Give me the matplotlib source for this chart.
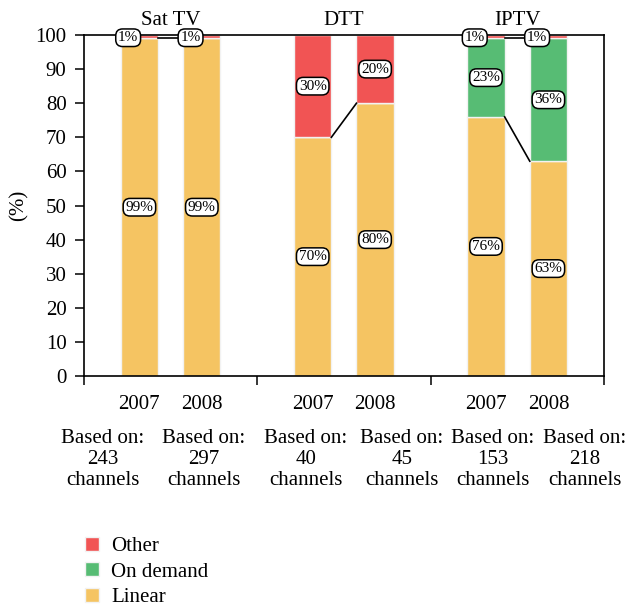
import matplotlib
matplotlib.use("Agg")
import matplotlib.pyplot as plt
import numpy as np
from matplotlib.patches import Patch

plt.rcParams['font.family'] = ['Liberation Serif', 'DejaVu Serif']

groups = ['Sat TV', 'DTT', 'IPTV']
years = ['2007', '2008', '2007', '2008', '2007', '2008']
channels = [243, 297, 40, 45, 153, 218]
linear = [99, 99, 70, 80, 76, 63]
on_demand = [0, 0, 0, 0, 23, 36]
other = [1, 1, 30, 20, 1, 1]

c_linear = '#F5C462'
c_demand = '#57BC74'
c_other = '#F15454'

fig = plt.figure(figsize=(6.29, 6.09), dpi=100)
ax = fig.add_axes([0.1335, 0.3826, 0.8265, 0.5599])

x = np.array([0.64, 1.36, 2.64, 3.36, 4.64, 5.36])
w = 0.43
# x positions of the "Based on" notes under each bar
note_x = [0.22, 1.38, 2.56, 3.67, 4.72, 5.78]

linear = np.array(linear)
on_demand = np.array(on_demand)
other = np.array(other)

ax.bar(x, linear, w, color=c_linear, edgecolor='#f2f2f2', lw=1, zorder=2)
ax.bar(x, on_demand, w, bottom=linear, color=c_demand, edgecolor='#f2f2f2', lw=1, zorder=2)
ax.bar(x, other, w, bottom=linear + on_demand, color=c_other, edgecolor='#f2f2f2', lw=1, zorder=2)

# connectors between the 2007 and 2008 bars of each group
for i in range(0, 6, 2):
    tops_a = [linear[i], linear[i] + on_demand[i]]
    tops_b = [linear[i + 1], linear[i + 1] + on_demand[i + 1]]
    for k, (a, b) in enumerate(zip(tops_a, tops_b)):
        if k == 1 and on_demand[i] == 0 and on_demand[i + 1] == 0:
            continue
        ax.plot([x[i] + w / 2, x[i + 1] - w / 2], [a, b], color='black', lw=1.2, zorder=3)

box = dict(boxstyle='round,pad=0.15,rounding_size=0.45', fc='white', ec='black', lw=1.1)
for i in range(6):
    segs = [(linear[i], 0), (on_demand[i], linear[i]), (other[i], linear[i] + on_demand[i])]
    for val, base in segs:
        if val == 0:
            continue
        xi = x[i]
        yi = base + val / 2
        if val == 1:
            xi = x[i] - 0.13
            yi = 99.2
        ax.text(xi, yi, f'{val}%', ha='center', va='center', fontsize=11,
                bbox=box, zorder=5)

ax.set_xlim(0, 6)
ax.set_ylim(0, 100)
ax.set_yticks(np.arange(0, 101, 10))
ax.tick_params(axis='y', direction='out', length=6.5, width=1.1, labelsize=15, pad=6)
ax.set_xticks([0, 2, 4, 6])
ax.set_xticklabels([])
ax.tick_params(axis='x', direction='out', length=6.5, width=1.1)
for s in ax.spines.values():
    s.set_linewidth(1.2)
ax.set_ylabel('(%)', fontsize=15, labelpad=5)

for g, name in enumerate(groups):
    ax.text(2 * g + 1, 101.5, name, ha='center', va='bottom', fontsize=15)

trans = ax.get_xaxis_transform()
for i in range(6):
    ax.text(x[i], -0.083, years[i], transform=trans, ha='center', va='center', fontsize=15)
    ax.text(note_x[i], -0.245, f'Based on:\n{channels[i]}\nchannels', transform=trans,
            ha='center', va='center', fontsize=15, linespacing=1.15)

handles = [Patch(fc=c_other, ec='#f2f2f2', label='Other'),
           Patch(fc=c_demand, ec='#f2f2f2', label='On demand'),
           Patch(fc=c_linear, ec='#f2f2f2', label='Linear')]
fig.legend(handles=handles, loc='upper left', bbox_to_anchor=(0.122, 0.132),
           frameon=False, fontsize=15, handlelength=0.65, handleheight=0.65,
           handletextpad=0.6, labelspacing=0.3, borderaxespad=0)

fig.savefig('out.png', dpi=100)
